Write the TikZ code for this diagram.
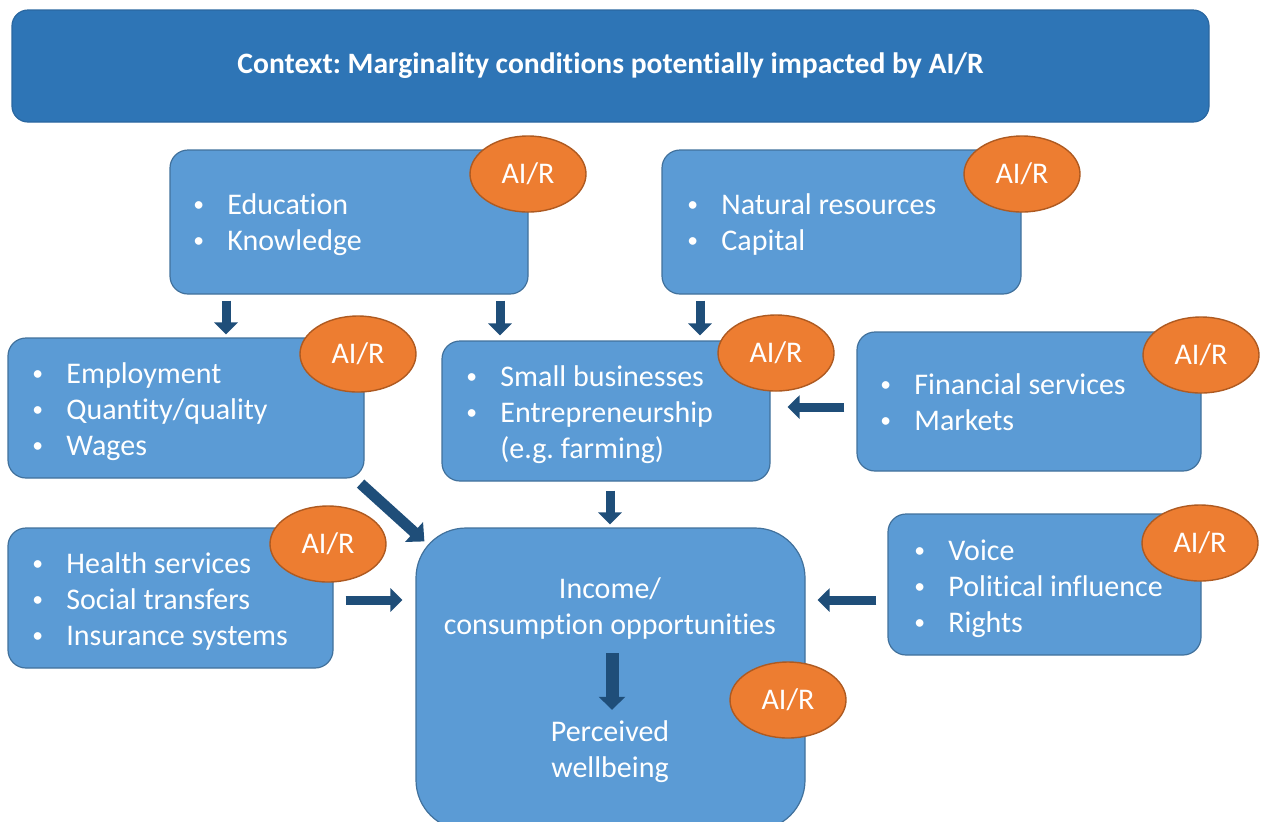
\documentclass[tikz,border=0pt]{standalone}
\usepackage{fontspec}
\setmainfont{Carlito}[Ligatures=NoCommon]
\usetikzlibrary{arrows.meta,shapes.geometric,calc}
\frenchspacing
\definecolor{titlebg}{HTML}{2E75B6}
\definecolor{titleline}{HTML}{2A67A0}
\definecolor{boxbg}{HTML}{5B9BD5}
\definecolor{boxline}{HTML}{41719C}
\definecolor{airbg}{HTML}{ED7D31}
\definecolor{airline}{HTML}{AE5A21}
\definecolor{arrowc}{HTML}{1F4E79}
\newcommand{\bl}[1]{\makebox[17pt][l]{\raisebox{0.18ex}{\scalebox{0.72}{\textbullet}}}#1}
\tikzset{
  box/.style={draw=boxline, line width=0.6pt, fill=boxbg, rounded corners=9pt, inner sep=0pt},
  air/.style={ellipse, draw=airline, line width=0.7pt, fill=airbg, text=white,
    minimum width=58pt, minimum height=38pt, inner sep=0pt, font=\fontsize{15}{18}\selectfont},
  txt/.style={text=white, anchor=base west, inner sep=0pt, align=left, font=\fontsize{15}{18}\selectfont},
  ctxt/.style={text=white, anchor=base, inner sep=0pt, align=center, font=\fontsize{15}{18}\selectfont},
  blk/.style={draw=arrowc, line width=4.5pt, -{Triangle[width=11.5pt,length=6pt]}},
  bigblk/.style={draw=arrowc, line width=6.5pt, -{Triangle[width=13pt,length=6.5pt]}},
}
\begin{document}
\begin{tikzpicture}[x=0.5pt,y=-0.5pt]
\useasboundingbox (0,0) rectangle (1261,821);
% title
\node[box, draw=titleline, fill=titlebg, rounded corners=8pt, minimum width=598.5pt, minimum height=56pt,
  text=white, font=\bfseries\fontsize{14.8}{17}\selectfont] (title) at (610.5,66)
  {Context: Marginality conditions potentially impacted by AI/R};
% boxes
\node[box, minimum width=179pt, minimum height=72pt] (edu) at (349,222) {};
\node[box, minimum width=179.5pt, minimum height=72pt] (nat) at (841.5,222) {};
\node[box, minimum width=178pt, minimum height=70pt] (emp) at (186,408) {};
\node[box, minimum width=164pt, minimum height=70pt] (biz) at (606,411) {};
\node[box, minimum width=172pt, minimum height=69.5pt] (fin) at (1029,401.5) {};
\node[box, minimum width=162.5pt, minimum height=70pt] (hea) at (170.5,598) {};
\node[box, minimum width=156.5pt, minimum height=70.5pt] (voi) at (1044.5,584.5) {};
\node[box, rounded corners=25pt, minimum width=194.5pt, minimum height=151pt] (inc) at (610.5,679) {};
% texts (anchor = baseline of the last line)
\node[txt] (tedu) at (193,250) {\bl{Education}\\\bl{Knowledge}};
\node[txt] (tnat) at (687,250) {\bl{Natural resources}\\\bl{Capital}};
\node[txt] (temp) at (32,455) {\bl{Employment}\\\bl{Quantity/quality}\\\bl{Wages}};
\node[txt] (tbiz) at (466,458) {\bl{Small businesses}\\\bl{Entrepreneurship}\\\hspace*{17pt}(e.g. farming)};
\node[txt] (tfin) at (880,430) {\bl{Financial services}\\\bl{Markets}};
\node[txt] (thea) at (32,645) {\bl{Health services}\\\bl{Social transfers}\\\bl{Insurance systems}};
\node[txt] (tvoi) at (914,632) {\bl{Voice}\\\bl{Political influence}\\\bl{Rights}};
\node[ctxt] (tinc) at (610,634) {Income/\\consumption opportunities};
\node[ctxt] (twel) at (610,777) {Perceived\\wellbeing};
% AI/R ellipses
\node[air] (aedu) at (528,174) {AI/R};
\node[air] (anat) at (1022,174) {AI/R};
\node[air] (aemp) at (358,354) {AI/R};
\node[air] (abiz) at (776,353) {AI/R};
\node[air] (afin) at (1201,355) {AI/R};
\node[air] (ahea) at (328,544) {AI/R};
\node[air] (avoi) at (1200,543) {AI/R};
\node[air] (ainc) at (788,700) {AI/R};
% arrows
\draw[blk, shorten <=3pt, shorten >=1.5pt] (edu.south -| 226,0) -- (emp.north -| 226,0);
\draw[blk, shorten <=3pt, shorten >=2.5pt] (edu.south -| 500,0) -- (biz.north -| 500,0);
\draw[blk, shorten <=3pt, shorten >=2.5pt] (nat.south -| 700,0) -- (biz.north -| 700,0);
\draw[blk, shorten <=6pt, shorten >=8.5pt] (fin.west |- 0,407) -- (biz.east |- 0,407);
\draw[blk, line width=5.5pt, -{Triangle[width=13pt,length=7pt]}] ($(emp.south east)+(-4,5)$) -- ($(inc.north west)+(9,14)$);
\draw[blk, shorten <=4.5pt, shorten >=1.5pt] (biz.south -| 610,0) -- (inc.north -| 610,0);
\draw[blk, shorten <=6pt, shorten >=6.5pt] (hea.east |- 0,600) -- (inc.west |- 0,600);
\draw[blk, shorten <=5.5pt, shorten >=6pt] (voi.west |- 0,600) -- (inc.east |- 0,600);
\draw[bigblk, shorten <=7pt, shorten >=5pt] (tinc.south -| 612,0) -- (twel.north -| 612,0);
\end{tikzpicture}
\end{document}
